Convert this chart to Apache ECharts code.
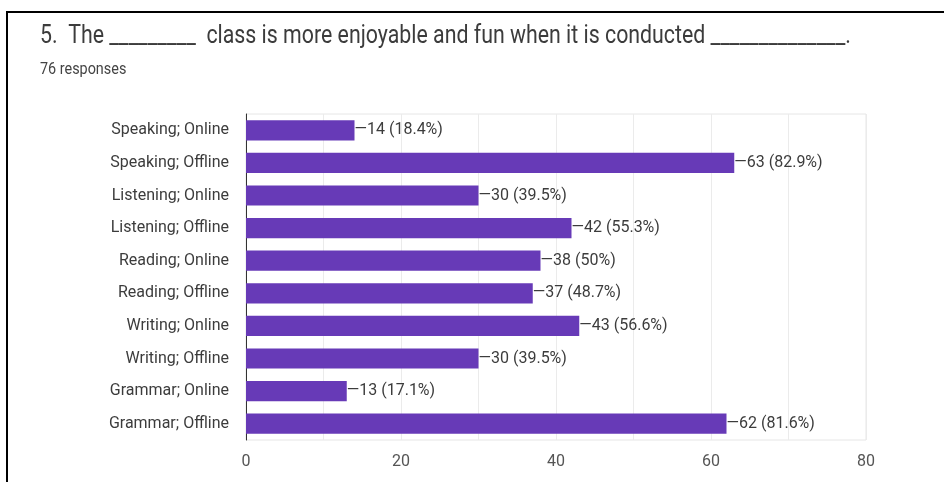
<!DOCTYPE html>
<html>
<head>
    <meta charset="utf-8">
    <title>ECharts</title>
    <script src="https://cdn.jsdelivr.net/npm/echarts@6/dist/echarts.min.js"></script>
    <style>
        html, body { margin: 0; padding: 0; background: #fff; }
    </style>
</head>
<body>
    <div id="main" style="width: 944px;height:482px;"></div>
    <script type="text/javascript">
    // 数据
    var categories = ['Speaking; Online', 'Speaking; Offline', 'Listening; Online', 'Listening; Offline',
        'Reading; Online', 'Reading; Offline', 'Writing; Online', 'Writing; Offline',
        'Grammar; Online', 'Grammar; Offline'];
    var counts = [14, 63, 30, 42, 38, 37, 43, 30, 13, 62];
    var percents = ['18.4%', '82.9%', '39.5%', '55.3%', '50%', '48.7%', '56.6%', '39.5%', '17.1%', '81.6%'];
    var xTicks = [0, 20, 40, 60, 80];

    var myChart = echarts.init(document.getElementById('main'));
    myChart.setOption({
        animation: false,
        textStyle: { fontFamily: 'Roboto' },
        graphic: [{
            type: 'rect',
            shape: { x: 7, y: 12, width: 960, height: 500 },
            style: { fill: 'none', stroke: '#000', lineWidth: 2 }
        }, {
            type: 'text',
            x: 40, y: 36, scaleX: 0.82,
            style: {
                text: '5.  The _________  class is more enjoyable and fun when it is conducted ______________.',
                fontSize: 26, fontFamily: 'Roboto', fill: '#3c3c3c', verticalAlign: 'middle'
            }
        }, {
            type: 'text',
            x: 40, y: 70, scaleX: 0.9,
            style: { text: '76 responses', fontSize: 16, fontFamily: 'Roboto', fill: '#444', verticalAlign: 'middle' }
        }],
        grid: { left: 246, right: 78, top: 114, bottom: 42, show: true, borderColor: '#e6e6e6', borderWidth: 1 },
        xAxis: {
            type: 'value',
            min: 0, max: 80, interval: 10,
            axisLine: { show: false },
            axisTick: { show: false },
            splitLine: { lineStyle: { color: '#ebebeb' } },
            axisLabel: {
                color: '#555', fontSize: 16, margin: 14,
                formatter: function (v) { return xTicks.indexOf(v) !== -1 ? String(v) : ''; }
            }
        },
        yAxis: {
            type: 'category',
            data: categories,
            inverse: true,
            axisLine: { lineStyle: { color: '#333', width: 1 } },
            axisTick: { show: false },
            axisLabel: { color: '#3c3c3c', fontSize: 16, margin: 17 }
        },
        series: [{
            type: 'bar',
            data: counts,
            barCategoryGap: '38%',
            itemStyle: { color: '#673ab7' },
            label: {
                show: true,
                position: 'right',
                distance: 0,
                color: '#3c3c3c',
                fontSize: 16,
                formatter: function (p) { return '\u2014' + p.value + ' (' + percents[p.dataIndex] + ')'; }
            }
        }]
    });
    </script>
</body>
</html>
